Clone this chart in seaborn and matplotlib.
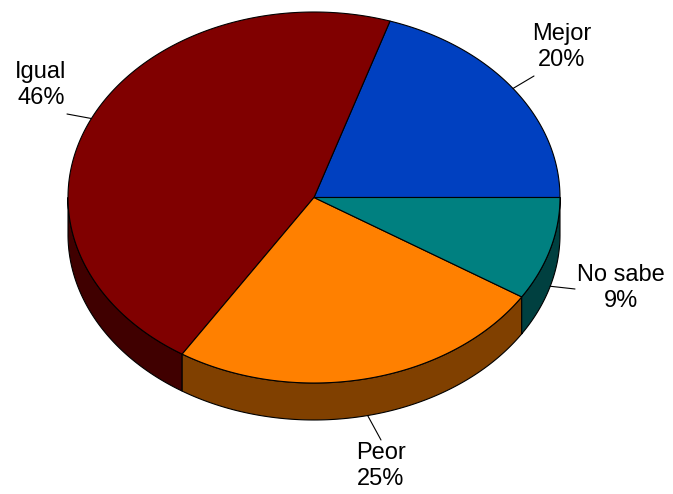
import numpy as np
import matplotlib
matplotlib.use("Agg")
import matplotlib.pyplot as plt
from matplotlib.patches import Polygon
import seaborn as sns

# data
categories = ["Mejor", "Igual", "Peor", "No sabe"]
shares = [20, 46, 25, 9]
top_colors = ["#0040C0", "#800000", "#FF8000", "#008080"]
side_colors = ["#002060", "#400000", "#804000", "#004040"]

sns.set_style("white")
plt.rcParams["font.family"] = ["Liberation Sans", "DejaVu Sans"]

# pie geometry in pixel space
cx, cy = 314, 197.5
rx, ry = 246, 185.5
depth = 37


def ell(t, dy=0):
    t = np.radians(t)
    return cx + rx * np.cos(t), cy - ry * np.sin(t) + dy


fig = plt.figure(figsize=(6.73, 4.94), dpi=100)
ax = fig.add_axes([0, 0, 1, 1])
ax.set_xlim(0, 673)
ax.set_ylim(494, 0)
ax.axis("off")

fracs = np.array(shares) / np.sum(shares)
edges = np.concatenate([[0], np.cumsum(fracs) * 360])

# side walls (only the front half shows)
for i in range(len(shares)):
    lo, hi = max(edges[i], 180), min(edges[i + 1], 360)
    if lo >= hi:
        continue
    ts = np.linspace(lo, hi, 120)
    xt, yt = ell(ts)
    xb, yb = ell(ts[::-1], depth)
    pts = np.column_stack([np.concatenate([xt, xb]), np.concatenate([yt, yb])])
    ax.add_patch(Polygon(pts, closed=True, facecolor=side_colors[i],
                         edgecolor="black", lw=0.8, joinstyle="round"))

# top face
for i in range(len(shares)):
    ts = np.linspace(edges[i], edges[i + 1], 200)
    xt, yt = ell(ts)
    pts = np.column_stack([np.concatenate([[cx], xt]), np.concatenate([[cy], yt])])
    ax.add_patch(Polygon(pts, closed=True, facecolor=top_colors[i],
                         edgecolor="black", lw=0.8, joinstyle="round"))

# labels and leader lines
label_pos = {"Mejor": (562, 47), "Igual": (41, 85),
             "Peor": (381, 466), "No sabe": (621, 288)}
line_end = {"Mejor": (534, 76), "Igual": (67, 114),
            "Peor": (381, 440), "No sabe": (575, 289)}
for i, cat in enumerate(categories):
    mid = (edges[i] + edges[i + 1]) / 2
    dy = depth if 180 < mid < 360 else 0
    x0, y0 = ell(mid, dy)
    x1, y1 = line_end[cat]
    ax.plot([x0, x1], [y0, y1], color="black", lw=0.8)
    tx, ty = label_pos[cat]
    ax.text(tx, ty, f"{cat}\n{shares[i]}%", ha="center", va="center",
            fontsize=17, linespacing=1.28, color="black")

fig.savefig("out.png", dpi=100, facecolor="white")
